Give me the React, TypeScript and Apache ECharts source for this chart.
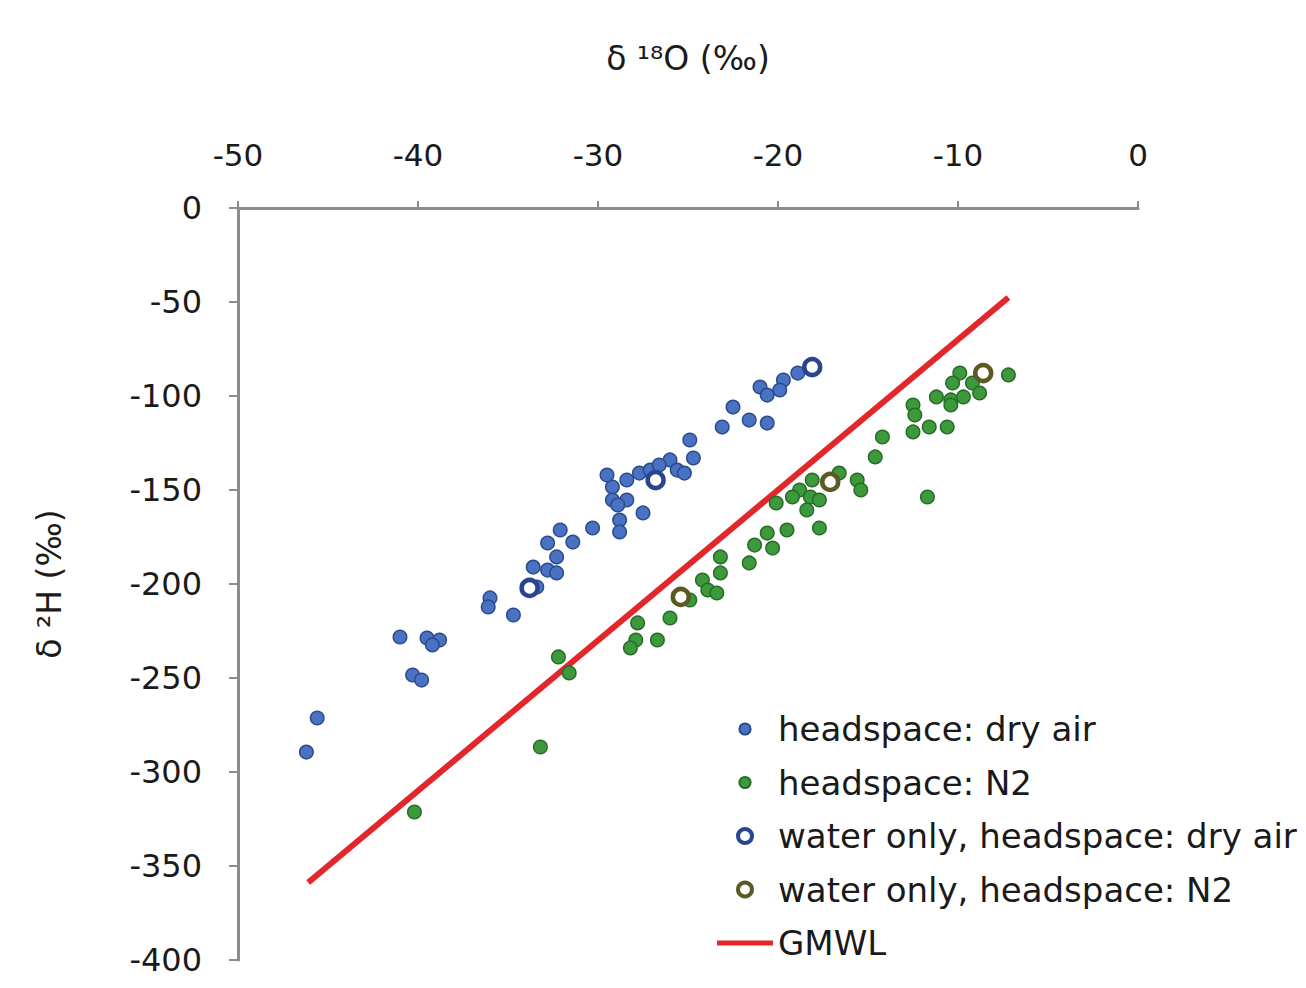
import React, { useEffect, useRef } from "react";
import * as echarts from "echarts";

// δ18O / δ2H pairs (‰)
const dryAirX = [
  -21.0, -22.5, -23.1, -21.6, -20.6, -24.9, -24.7, -26.0, -25.6, -25.2,
  -29.2, -28.4, -27.7, -29.2, -28.4, -28.8, -28.8, -27.5, -30.3, -32.1,
  -31.4, -32.8, -32.3, -33.6, -32.8, -32.3, -33.4, -36.0, -36.1, -34.7,
  -41.0, -39.5, -38.8, -39.2, -40.3, -39.8, -45.6, -46.2, -18.9, -19.7,
  -20.6, -19.9, -29.5, -27.1, -26.6, -28.9,
];
const dryAirY = [
  -95.2, -105.9, -116.5, -112.8, -114.4, -123.4, -133.0, -134.0, -139.4, -141.0,
  -148.4, -144.7, -141.0, -155.3, -155.3, -166.0, -172.3, -162.2, -170.2, -171.3,
  -177.7, -178.2, -185.6, -191.0, -192.6, -194.1, -201.6, -207.4, -212.2, -216.5,
  -228.2, -228.7, -229.8, -232.4, -248.4, -251.1, -271.3, -289.4, -87.8, -91.5,
  -99.5, -96.8, -142.0, -139.4, -136.7, -158.0,
];

const n2X = [
  -9.9, -7.2, -10.3, -9.2, -11.2, -10.4, -9.7, -8.8, -10.4, -12.5,
  -12.4, -12.5, -11.6, -10.6, -14.2, -14.6, -11.7, -18.1, -16.6, -15.6,
  -15.4, -18.8, -19.2, -18.2, -17.7, -18.4, -19.5, -17.7, -20.1, -20.6,
  -21.3, -20.3, -21.6, -23.2, -23.2, -24.2, -23.9, -23.4, -24.9, -26.0,
  -27.8, -27.9, -28.2, -26.7, -32.2, -31.6, -33.2, -40.2,
];
const n2Y = [
  -87.8, -88.8, -93.1, -93.1, -100.5, -102.1, -100.5, -98.4, -104.8, -104.8,
  -110.1, -119.1, -116.5, -116.5, -121.8, -132.4, -153.7, -144.7, -141.0, -144.7,
  -150.0, -150.0, -153.7, -153.7, -155.3, -160.6, -171.3, -170.2, -156.9, -172.9,
  -179.3, -180.9, -188.8, -185.6, -194.1, -197.9, -203.2, -204.8, -208.5, -218.1,
  -220.7, -229.8, -234.0, -229.8, -238.8, -247.3, -286.7, -321.3,
];

const waterDryAirX = [-18.1, -26.8, -33.8];
const waterDryAirY = [-84.6, -144.7, -202.1];

const waterN2X = [-8.6, -17.1, -25.4];
const waterN2Y = [-87.8, -145.7, -206.9];

// Global Meteoric Water Line end points
const gmwlX = [-46.1, -7.2];
const gmwlY = [-358.8, -47.6];

const xTicks = { min: -50, max: 0, interval: 10 };
const yTicks = { min: -400, max: 0, interval: 50 };

const seriesNames = [
  "headspace: dry air",
  "headspace: N2",
  "water only, headspace: dry air",
  "water only, headspace: N2",
  "GMWL",
];

const pairs = (xs: number[], ys: number[]) => xs.map((x, i) => [x, ys[i]]);

const FONT = "DejaVu Sans";

// small filled dot inside a 14x14 box, so the legend keeps it smaller than the rings
const DOT_ICON = "path://M0,0M14,14M12.6,7A5.6,5.6,0,1,1,1.4,7A5.6,5.6,0,1,1,12.6,7Z";
// flat bar for the line entry
const LINE_ICON = "path://M0,0H56V5H0Z";

export default function App() {
  const ref = useRef<HTMLDivElement>(null);

  useEffect(() => {
    document.body.style.margin = "0";
    if (!ref.current) return;
    const chart = echarts.init(ref.current, undefined, { renderer: "svg" });
    const axisLineStyle = { color: "#8c8c8c", width: 3 };
    chart.setOption({
      animation: false,
      backgroundColor: "#ffffff",
      grid: { left: 238, right: 168, top: 208, bottom: 28 },
      xAxis: {
        type: "value",
        position: "top",
        min: xTicks.min,
        max: xTicks.max,
        interval: xTicks.interval,
        name: "δ ¹⁸O (‰)",
        nameLocation: "middle",
        nameGap: 133,
        nameTextStyle: { fontFamily: FONT, fontSize: 33, color: "#1a1a1a" },
        axisLine: { show: true, onZero: false, lineStyle: axisLineStyle },
        axisTick: { show: true, inside: false, length: 7, lineStyle: { color: "#8c8c8c", width: 2 } },
        axisLabel: { fontFamily: FONT, fontSize: 31, color: "#1a1a1a", margin: 38 },
        splitLine: { show: false },
      },
      yAxis: {
        type: "value",
        min: yTicks.min,
        max: yTicks.max,
        interval: yTicks.interval,
        name: "δ ²H (‰)",
        nameLocation: "middle",
        nameGap: 172,
        nameRotate: 90,
        nameTextStyle: { fontFamily: FONT, fontSize: 33, color: "#1a1a1a" },
        axisLine: { show: true, onZero: false, lineStyle: axisLineStyle },
        axisTick: { show: true, inside: false, length: 9, lineStyle: { color: "#8c8c8c", width: 2 } },
        axisLabel: { fontFamily: FONT, fontSize: 32, color: "#1a1a1a", margin: 36 },
        splitLine: { show: false },
      },
      legend: {
        orient: "vertical",
        left: 712,
        top: 704,
        padding: 5,
        itemWidth: 56,
        itemHeight: 14,
        itemGap: 13.5,
        textStyle: { fontFamily: FONT, fontSize: 34, color: "#1a1a1a", lineHeight: 40 },
        data: [
          { name: seriesNames[0], icon: DOT_ICON },
          { name: seriesNames[1], icon: DOT_ICON },
          { name: seriesNames[2], icon: "circle", itemStyle: { borderWidth: 4 } },
          { name: seriesNames[3], icon: "circle", itemStyle: { borderWidth: 4 } },
          { name: seriesNames[4], icon: LINE_ICON, itemStyle: { borderWidth: 0 } },
        ],
      },
      series: [
        {
          name: seriesNames[0],
          type: "scatter",
          symbol: "circle",
          symbolSize: 13.5,
          itemStyle: { color: "#4a72c2", borderColor: "#2c4a8c", borderWidth: 1.5, opacity: 1 },
          data: pairs(dryAirX, dryAirY),
          z: 3,
        },
        {
          name: seriesNames[1],
          type: "scatter",
          symbol: "circle",
          symbolSize: 13.5,
          itemStyle: { color: "#3c9a3c", borderColor: "#276b27", borderWidth: 1.5, opacity: 1 },
          data: pairs(n2X, n2Y),
          z: 3,
        },
        {
          name: seriesNames[2],
          type: "scatter",
          symbol: "circle",
          symbolSize: 16,
          itemStyle: { color: "#ffffff", borderColor: "#2a4590", borderWidth: 4.5, opacity: 1 },
          data: pairs(waterDryAirX, waterDryAirY),
          z: 4,
        },
        {
          name: seriesNames[3],
          type: "scatter",
          symbol: "circle",
          symbolSize: 16,
          itemStyle: { color: "#ffffff", borderColor: "#5b5a25", borderWidth: 4.5, opacity: 1 },
          data: pairs(waterN2X, waterN2Y),
          z: 4,
        },
        {
          name: seriesNames[4],
          type: "line",
          showSymbol: false,
          symbol: "none",
          lineStyle: { color: "#e3262a", width: 6 },
          itemStyle: { color: "#e3262a" },
          data: pairs(gmwlX, gmwlY),
          z: 2,
        },
      ],
    });
    return () => chart.dispose();
  }, []);

  return <div ref={ref} style={{ width: 1306, height: 988 }} />;
}
